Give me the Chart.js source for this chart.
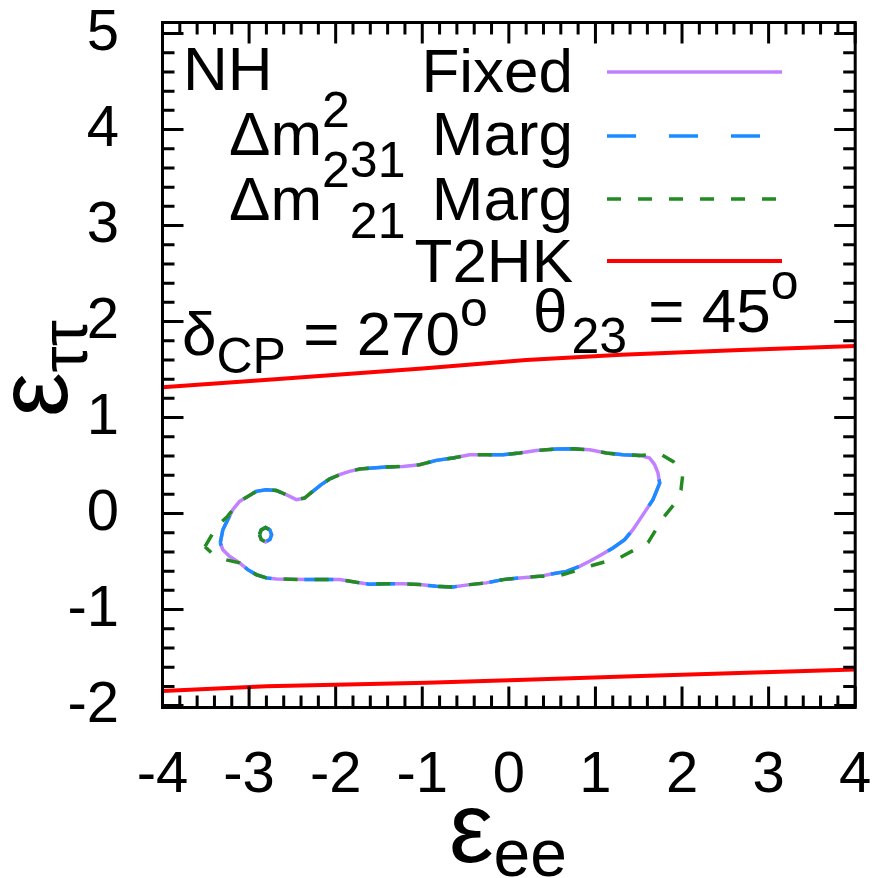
<!DOCTYPE html>
<html>
<head>
<meta charset="utf-8">
<script src="https://cdn.jsdelivr.net/npm/chart.js@4/dist/chart.umd.min.js"></script>
<style>
  html, body { margin: 0; padding: 0; background: #fff; }
  #wrap { position: absolute; left: 0; top: 0; width: 883px; height: 878px; }
</style>
</head>
<body>
<div id="wrap"><canvas id="chart" width="883" height="878"></canvas></div>
<script>
// axis ticks
const xTicks = [-4, -3, -2, -1, 0, 1, 2, 3, 4];
const yTicks = [-2, -1, 0, 1, 2, 3, 4, 5];

// NH, delta_CP = 270, theta23 = 45 : allowed regions (eps_ee, eps_tautau)
const fixedContour = [
  [-3.333, -0.306], [-3.303, -0.168], [-3.246, -0.063], [-3.188, 0.041], [-3.110, 0.127],
  [-3.015, 0.179], [-2.918, 0.231], [-2.802, 0.249], [-2.686, 0.241], [-2.571, 0.197],
  [-2.455, 0.145], [-2.360, 0.162], [-2.264, 0.231], [-2.167, 0.301], [-2.071, 0.360],
  [-1.955, 0.405], [-1.840, 0.439], [-1.724, 0.464], [-1.416, 0.485], [-1.224, 0.491],
  [-1.031, 0.509], [-0.838, 0.554], [-0.646, 0.579], [-0.453, 0.613], [-0.260, 0.613],
  [-0.069, 0.613], [0.124, 0.631], [0.317, 0.658], [0.548, 0.672], [0.740, 0.675],
  [0.933, 0.665], [1.126, 0.631], [1.318, 0.613], [1.511, 0.606], [1.626, 0.579],
  [1.684, 0.509], [1.722, 0.423], [1.742, 0.318], [1.704, 0.231], [1.664, 0.145],
  [1.588, 0.041], [1.511, -0.063], [1.433, -0.168], [1.337, -0.272], [1.202, -0.358],
  [1.068, -0.428], [0.933, -0.497], [0.817, -0.550], [0.664, -0.602], [0.509, -0.626],
  [0.355, -0.654], [0.124, -0.670], [-0.069, -0.688], [-0.260, -0.722], [-0.453, -0.740],
  [-0.646, -0.764], [-0.838, -0.758], [-1.031, -0.740], [-1.224, -0.730], [-1.416, -0.730],
  [-1.609, -0.735], [-1.762, -0.716], [-1.955, -0.688], [-2.340, -0.688], [-2.686, -0.681],
  [-2.802, -0.670], [-2.918, -0.636], [-3.015, -0.584], [-3.110, -0.514], [-3.226, -0.445],
  [-3.303, -0.376], [-3.333, -0.306]
];
const marg31Contour = [
  [-3.333, -0.306], [-3.303, -0.168], [-3.246, -0.063], [-3.188, 0.041], [-3.110, 0.127],
  [-3.015, 0.179], [-2.918, 0.231], [-2.802, 0.249], [-2.686, 0.241], [-2.571, 0.197],
  [-2.455, 0.145], [-2.360, 0.162], [-2.264, 0.231], [-2.167, 0.301], [-2.071, 0.360],
  [-1.955, 0.405], [-1.840, 0.439], [-1.724, 0.464], [-1.416, 0.485], [-1.224, 0.491],
  [-1.031, 0.509], [-0.838, 0.554], [-0.646, 0.579], [-0.453, 0.613], [-0.260, 0.613],
  [-0.069, 0.613], [0.124, 0.631], [0.317, 0.658], [0.548, 0.672], [0.740, 0.675],
  [0.933, 0.665], [1.126, 0.631], [1.318, 0.613], [1.511, 0.606], [1.626, 0.579],
  [1.684, 0.509], [1.722, 0.423], [1.742, 0.318], [1.704, 0.231], [1.664, 0.145],
  [1.588, 0.041], [1.511, -0.063], [1.433, -0.168], [1.337, -0.272], [1.202, -0.358],
  [1.068, -0.428], [0.933, -0.497], [0.817, -0.550], [0.664, -0.602], [0.509, -0.626],
  [0.355, -0.654], [0.124, -0.670], [-0.069, -0.688], [-0.260, -0.722], [-0.453, -0.740],
  [-0.646, -0.764], [-0.838, -0.758], [-1.031, -0.740], [-1.224, -0.730], [-1.416, -0.730],
  [-1.609, -0.735], [-1.762, -0.716], [-1.955, -0.688], [-2.340, -0.688], [-2.686, -0.681],
  [-2.802, -0.670], [-2.918, -0.636], [-3.015, -0.584], [-3.110, -0.514], [-3.226, -0.445],
  [-3.303, -0.376], [-3.333, -0.306]
];
const marg21Contour = [
  [-3.509, -0.345], [-3.374, -0.133], [-3.250, -0.030], [-3.188, 0.041], [-3.110, 0.127],
  [-3.015, 0.179], [-2.918, 0.231], [-2.802, 0.249], [-2.686, 0.241], [-2.571, 0.197],
  [-2.455, 0.145], [-2.360, 0.162], [-2.264, 0.231], [-2.167, 0.301], [-2.071, 0.360],
  [-1.955, 0.405], [-1.840, 0.439], [-1.724, 0.464], [-1.416, 0.485], [-1.224, 0.491],
  [-1.031, 0.509], [-0.838, 0.554], [-0.646, 0.579], [-0.453, 0.613], [-0.260, 0.613],
  [-0.069, 0.613], [0.124, 0.631], [0.317, 0.658], [0.548, 0.672], [0.740, 0.675],
  [0.933, 0.665], [1.126, 0.631], [1.318, 0.613], [1.511, 0.606], [1.749, 0.622],
  [1.900, 0.540], [2.011, 0.425], [1.988, 0.249], [1.907, 0.093], [1.792, -0.032],
  [1.607, -0.302], [1.284, -0.458], [0.960, -0.541], [0.591, -0.646], [0.355, -0.654],
  [0.124, -0.670], [-0.069, -0.688], [-0.260, -0.722], [-0.453, -0.740], [-0.646, -0.764],
  [-0.838, -0.758], [-1.031, -0.740], [-1.224, -0.730], [-1.416, -0.730], [-1.609, -0.735],
  [-1.762, -0.716], [-1.955, -0.688], [-2.340, -0.688], [-2.686, -0.681], [-2.802, -0.670],
  [-2.918, -0.636], [-3.015, -0.584], [-3.110, -0.514], [-3.278, -0.479], [-3.413, -0.428],
  [-3.509, -0.345]
];
// small closed island near (-2.8, -0.2), same for all three
const islandContour = [
  [-2.88, -0.22], [-2.86, -0.17], [-2.81, -0.145], [-2.76, -0.17], [-2.74, -0.22],
  [-2.76, -0.27], [-2.81, -0.295], [-2.86, -0.27], [-2.88, -0.22]
];
// T2HK boundaries
const t2hkUpper = [[-4, 1.315], [-2.7, 1.40], [-1.0, 1.51], [0.2, 1.60], [1.3, 1.655], [2.6, 1.70], [4, 1.745]];
const t2hkLower = [[-4, -1.848], [-2.8, -1.799], [-0.95, -1.763], [0.1, -1.733], [1.43, -1.694], [2.75, -1.659], [4, -1.625]];

const seriesLabels = ['Fixed', 'Marg', 'Marg', 'T2HK'];
const seriesColors = ['#c080ff', '#1a8cff', '#228b22', '#ff0000'];
const seriesDashes = [[], [29, 33], [14, 17], []];

const FONT = '"Liberation Sans", Arial, sans-serif';

function toPoints(...segs) {
  const out = [];
  segs.forEach((seg, i) => {
    if (i > 0) out.push({ x: null, y: null });
    seg.forEach(p => out.push({ x: p[0], y: p[1] }));
  });
  return out;
}

// draws a run of text pieces (sub/superscripts via dy), left to right
function rich(ctx, x, y, parts) {
  parts.forEach(p => {
    ctx.font = p.size + 'px ' + FONT;
    x += p.dx || 0;
    ctx.fillText(p.t, x, y + (p.dy || 0));
    x += ctx.measureText(p.t).width;
  });
  return x;
}

// no extra room for overhanging tick labels: the frame sits where the reference has it
function fixBox(s, w, h) {
  if (w) s.width = w;
  if (h) s.height = h;
  s.paddingLeft = s.paddingRight = s.paddingTop = s.paddingBottom = 0;
}

const decorPlugin = {
  id: 'decor',
  afterDatasetsDraw(chart) {
    const ctx = chart.ctx;
    const a = chart.chartArea;
    const xs = chart.scales.x, ys = chart.scales.y;
    ctx.save();
    ctx.strokeStyle = '#000';
    ctx.lineWidth = 3;
    ctx.lineCap = 'butt';
    // minor + major ticks on all four sides
    const majL = 21, minL = 12;
    for (let i = -20; i <= 20; i++) {
      const px = xs.getPixelForValue(i / 5);
      const len = (i % 5 === 0) ? majL : minL;
      ctx.beginPath();
      ctx.moveTo(px, a.bottom); ctx.lineTo(px, a.bottom - len);
      ctx.moveTo(px, a.top); ctx.lineTo(px, a.top + len);
      ctx.stroke();
    }
    for (let i = -10; i <= 25; i++) {
      const py = ys.getPixelForValue(i / 5);
      if (py < a.top || py > a.bottom) continue;
      const len = (i % 5 === 0) ? majL : minL;
      ctx.beginPath();
      ctx.moveTo(a.left, py); ctx.lineTo(a.left + len, py);
      ctx.moveTo(a.right, py); ctx.lineTo(a.right - len, py);
      ctx.stroke();
    }
    ctx.strokeRect(a.left, a.top, a.right - a.left, a.bottom - a.top);

    // key
    ctx.fillStyle = '#000';
    ctx.textBaseline = 'alphabetic';
    ctx.textAlign = 'left';
    const keyY = [72, 136, 199, 261];
    const textY = [92, 155, 220, 282];
    ctx.font = '62px ' + FONT;
    ctx.fillText('NH', 183, 90);
    rich(ctx, 229, textY[1], [
      { t: 'Δm', size: 62 }, { t: '2', size: 50, dy: -28 }, { t: '31', size: 50, dy: 22 }
    ]);
    rich(ctx, 229, textY[2], [
      { t: 'Δm', size: 62 }, { t: '2', size: 50, dy: -33 }, { t: '21', size: 50, dy: 18 }
    ]);
    ctx.textAlign = 'right';
    ctx.font = '62px ' + FONT;
    seriesLabels.forEach((lab, i) => ctx.fillText(lab, 573, textY[i]));
    seriesLabels.forEach((lab, i) => {
      ctx.beginPath();
      ctx.strokeStyle = seriesColors[i];
      ctx.lineWidth = i === 3 ? 4 : 3.5;
      ctx.setLineDash(seriesDashes[i]);
      ctx.moveTo(607, keyY[i]); ctx.lineTo(782, keyY[i]);
      ctx.stroke();
    });
    ctx.setLineDash([]);

    // parameter labels
    ctx.textAlign = 'left';
    ctx.fillStyle = '#000';
    rich(ctx, 182, 355, [
      { t: 'δ', size: 62 }, { t: 'CP', size: 50, dy: 18 }, { t: ' = 270', size: 62 }, { t: 'o', size: 50, dy: -29 }
    ]);
    rich(ctx, 533, 332, [
      { t: 'θ', size: 62 }, { t: '23', size: 50, dy: 21, dx: 4 }, { t: ' = 45', size: 62, dx: 4 }, { t: 'o', size: 50, dy: -33 }
    ]);

    // axis titles
    rich(ctx, 449, 862, [{ t: 'ε', size: 100 }, { t: 'ee', size: 66, dy: 14 }]);
    ctx.save();
    ctx.translate(67, 417);
    ctx.rotate(-Math.PI / 2);
    rich(ctx, 0, 0, [{ t: 'ε', size: 100 }, { t: 'ττ', size: 66, dy: 20 }]);
    ctx.restore();
    ctx.restore();
  }
};

const lineDs = (label, data, i) => ({
  label,
  data,
  showLine: true,
  borderColor: seriesColors[i],
  borderWidth: i === 3 ? 4 : 3.5,
  borderDash: seriesDashes[i],
  pointRadius: 0,
  tension: 0,
  fill: false
});

new Chart(document.getElementById('chart'), {
  type: 'scatter',
  data: {
    datasets: [
      lineDs('Δm²21 Marg', toPoints(marg21Contour, islandContour), 2),
      lineDs('Δm²31 Marg', toPoints(marg31Contour, islandContour), 1),
      lineDs('Fixed', toPoints(fixedContour, islandContour), 0),
      lineDs('T2HK', toPoints(t2hkUpper, t2hkLower), 3)
    ]
  },
  options: {
    responsive: false,
    devicePixelRatio: 1,
    animation: false,
    layout: { padding: { top: 22.5, right: 27.8, left: 0, bottom: 0 } },
    plugins: { legend: { display: false }, tooltip: { enabled: false } },
    scales: {
      x: {
        type: 'linear', min: -4, max: 4,
        grid: { display: false }, border: { display: false },
        afterBuildTicks: s => { s.ticks = xTicks.map(v => ({ value: v })); },
        afterFit: s => fixBox(s, 0, 170.5),
        ticks: {
          autoSkip: false, maxRotation: 0, padding: 26, color: '#000',
          font: { family: FONT, size: 58 },
          callback: v => String(v)
        }
      },
      y: {
        type: 'linear', min: -2.02, max: 5.115,
        grid: { display: false }, border: { display: false },
        afterBuildTicks: s => { s.ticks = yTicks.map(v => ({ value: v })); },
        afterFit: s => fixBox(s, 162.5, 0),
        ticks: {
          autoSkip: false, padding: 35.5, color: '#000',
          font: { family: FONT, size: 58 },
          callback: v => String(v)
        }
      }
    }
  },
  plugins: [decorPlugin]
});
</script>
</body>
</html>
